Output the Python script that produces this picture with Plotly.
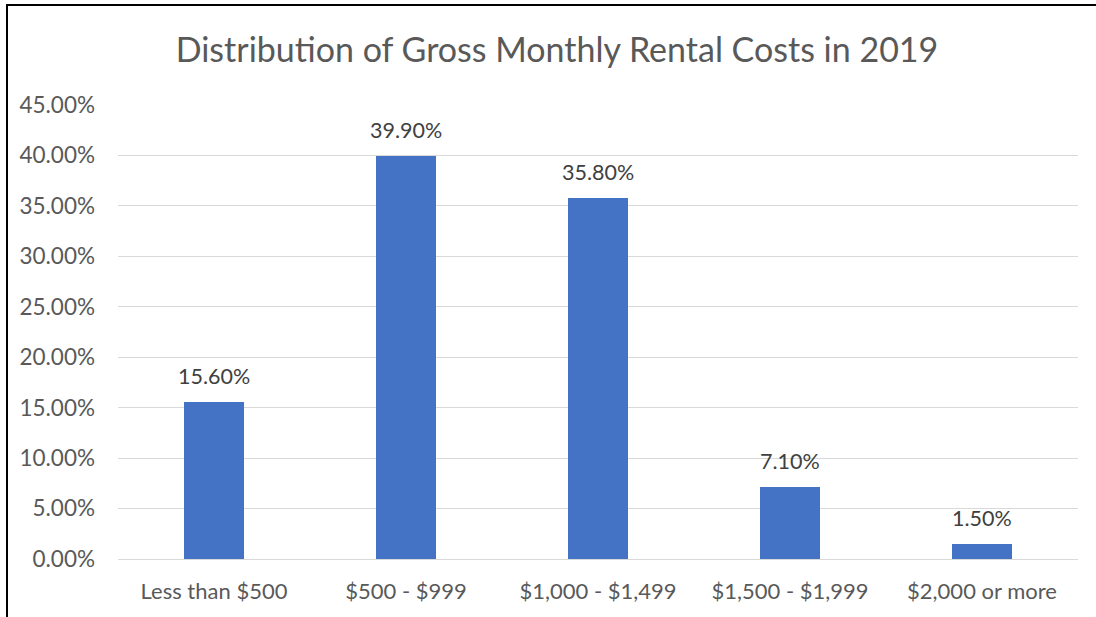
import plotly.graph_objects as go

categories = ["Less than $500", "$500 - $999", "$1,000 - $1,499", "$1,500 - $1,999", "$2,000 or more"]
shares = [0.156, 0.399, 0.358, 0.071, 0.015]
labels = ["15.60%", "39.90%", "35.80%", "7.10%", "1.50%"]
title_text = "Distribution of Gross Monthly Rental Costs in 2019"

W, H = 1096, 617
L, R, T, B = 118, 18, 105, 58
pw, ph = W - L - R, H - T - B
FONT = "Lato, 'Open Sans', sans-serif"

fig = go.Figure(go.Bar(
    x=categories, y=shares,
    marker=dict(color="#4472C4", line=dict(width=0)),
    width=0.3125,
    hoverinfo="x+y",
))

for c, v, t in zip(categories, shares, labels):
    fig.add_annotation(x=c, y=v, text=t, showarrow=False, yanchor="bottom", yshift=11,
                       font=dict(family=FONT, size=21.5, color="#404040"))

fig.update_layout(
    width=W, height=H,
    margin=dict(l=L, r=R, t=T, b=B),
    paper_bgcolor="white", plot_bgcolor="white",
    font=dict(family=FONT, color="#595959"),
    title=dict(text=title_text, x=557 / W, xanchor="center", y=1 - 50 / H, yanchor="middle",
               font=dict(size=34, color="#595959")),
    bargap=0,
    showlegend=False,
    xaxis=dict(range=[-0.5, 4.5], showgrid=False, showline=False, ticks="",
               ticklabelstandoff=17,
               tickfont=dict(size=22, color="#595959"), fixedrange=True),
    yaxis=dict(range=[0, 0.45], dtick=0.05, tickformat=".2%", showgrid=True,
               gridcolor="#D9D9D9", gridwidth=1.2, zeroline=True, zerolinecolor="#D9D9D9",
               zerolinewidth=1.2, showline=False, ticks="", ticklabelstandoff=22,
               tickfont=dict(size=22.5, color="#595959"), fixedrange=True),
)

# chart border (left and top edges visible in the crop)
fig.add_shape(type="line", xref="paper", yref="paper",
              x0=(7 - L) / pw, x1=(7 - L) / pw, y0=(H - 640 - B) / ph, y1=(H - 5 - B) / ph,
              line=dict(color="black", width=2))
fig.add_shape(type="line", xref="paper", yref="paper",
              x0=(6 - L) / pw, x1=(W + 5 - L) / pw, y0=(H - 5 - B) / ph, y1=(H - 5 - B) / ph,
              line=dict(color="black", width=2))

fig.write_html("out.html", config={"displayModeBar": False},
               post_script="document.body.style.margin='0';document.body.style.overflow='hidden';")
